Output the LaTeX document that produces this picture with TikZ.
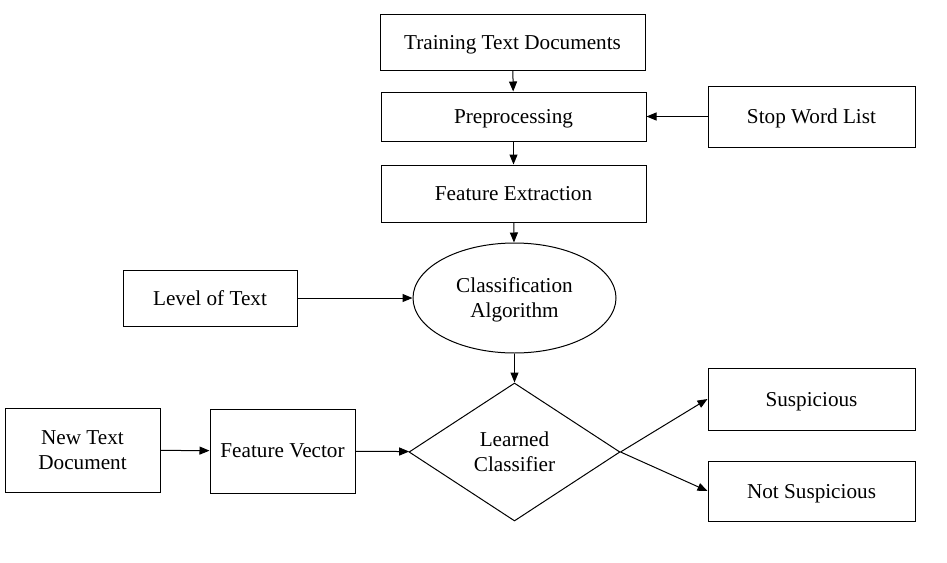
\documentclass[tikz,border=0pt]{standalone}
\usepackage{fontspec}
\setmainfont{Liberation Serif}
\usepackage{tikz}
\usetikzlibrary{arrows.meta,shapes.geometric}

\begin{document}
\begin{tikzpicture}[x=0.5pt, y=-0.5pt, line width=0.5pt]
\tikzstyle{block}=[rectangle, draw, align=center, inner sep=0pt, text depth=0pt, font=\fontsize{10.6}{12.5}\selectfont]
\tikzstyle{arr}=[-{Triangle[length=5pt, width=4pt]}]
\useasboundingbox (0,0) rectangle (947,562);

\node[block, minimum width=132.5pt, minimum height=28pt] (train) at (512.5,42) {Training Text Documents};
\node[block, minimum width=132.5pt, minimum height=24.5pt] (pre) at (513.5,116.5) {Preprocessing};
\node[block, minimum width=103.5pt, minimum height=30.5pt] (stop) at (811.5,116.5) {Stop Word List};
\node[block, minimum width=132.5pt, minimum height=28.5pt] (feat) at (513.5,193.5) {Feature Extraction};
\node[block, ellipse, minimum width=101.5pt, minimum height=55pt] (algo) at (514.5,298) {Classification\\Algorithm};
\node[block, minimum width=87pt, minimum height=28pt] (level) at (210,298) {Level of Text};
\node[block, diamond, minimum width=105.5pt, minimum height=69pt] (learn) at (514.5,452) {Learned\\Classifier};
\node[block, minimum width=77.5pt, minimum height=42pt] (new) at (82.5,450) {New Text\\Document};
\node[block, minimum width=72.5pt, minimum height=42pt] (vec) at (282.5,451) {Feature Vector};
\node[block, minimum width=103.5pt, minimum height=31pt] (susp) at (811.5,399) {Suspicious};
\node[block, minimum width=103.5pt, minimum height=30pt] (nsusp) at (811.5,491) {Not Suspicious};

\path[arr]
(train) edge (pre)
(pre) edge (feat)
(stop) edge (pre)
(feat) edge (algo)
(level) edge (algo)
(algo) edge (learn)
(new) edge (vec)
(vec) edge (learn)
(learn.east) edge (susp.west)
(learn.east) edge (nsusp.west);

\end{tikzpicture}
\end{document}
